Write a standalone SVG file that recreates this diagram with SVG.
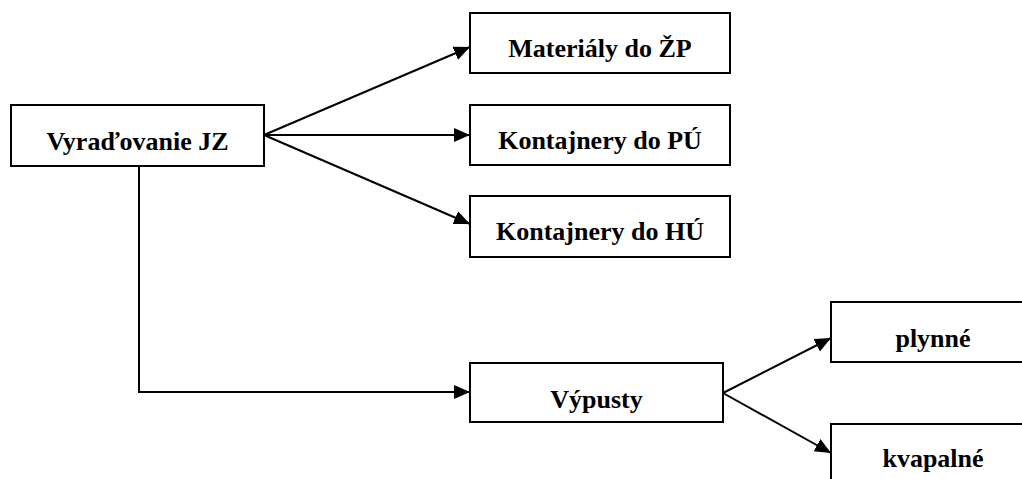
<svg xmlns="http://www.w3.org/2000/svg" width="1022" height="479" viewBox="0 0 1022 479">
<style>
.box{fill:#fff;stroke:#000;stroke-width:2}
.lbl{font-family:"Liberation Serif","Times New Roman",serif;font-weight:bold;font-size:26px;fill:#000;text-anchor:middle}
.con{fill:none;stroke:#000;stroke-width:2}
</style>
<defs>
<marker id="ah" markerUnits="userSpaceOnUse" markerWidth="18" markerHeight="16" refX="16" refY="7" orient="auto">
<path d="M0,0 L16,7 L0,14 Z" fill="#000"/>
</marker>
</defs>
<rect width="1022" height="479" fill="#fff"/>
<g id="connectors">
<line class="con" x1="264" y1="135" x2="470" y2="47" marker-end="url(#ah)"/>
<line class="con" x1="264" y1="135" x2="470" y2="135" marker-end="url(#ah)"/>
<line class="con" x1="264" y1="135" x2="470" y2="224" marker-end="url(#ah)"/>
<polyline class="con" points="139,166 139,392 470,392" marker-end="url(#ah)"/>
<line class="con" x1="723" y1="393" x2="831" y2="338" marker-end="url(#ah)"/>
<line class="con" x1="723" y1="393" x2="831" y2="453" marker-end="url(#ah)"/>
</g>
<g id="vyradovanie">
<rect class="box" x="11" y="105" width="253" height="61"/>
<text class="lbl" x="137.5" y="150">Vyraďovanie JZ</text>
</g>
<g id="materialy">
<rect class="box" x="470" y="13" width="260" height="60"/>
<text class="lbl" x="600" y="57">Materiály do ŽP</text>
</g>
<g id="kontajnery-pu">
<rect class="box" x="470" y="105" width="260" height="60"/>
<text class="lbl" x="600" y="149">Kontajnery do PÚ</text>
</g>
<g id="kontajnery-hu">
<rect class="box" x="470" y="196" width="260" height="61"/>
<text class="lbl" x="600" y="240">Kontajnery do HÚ</text>
</g>
<g id="vypusty">
<rect class="box" x="470" y="363" width="253" height="59"/>
<text class="lbl" x="596.5" y="408">Výpusty</text>
</g>
<g id="plynne">
<rect class="box" x="831" y="302" width="204" height="60"/>
<text class="lbl" x="933" y="347">plynné</text>
</g>
<g id="kvapalne">
<rect class="box" x="831" y="424" width="204" height="60"/>
<text class="lbl" x="933" y="467">kvapalné</text>
</g>
</svg>
